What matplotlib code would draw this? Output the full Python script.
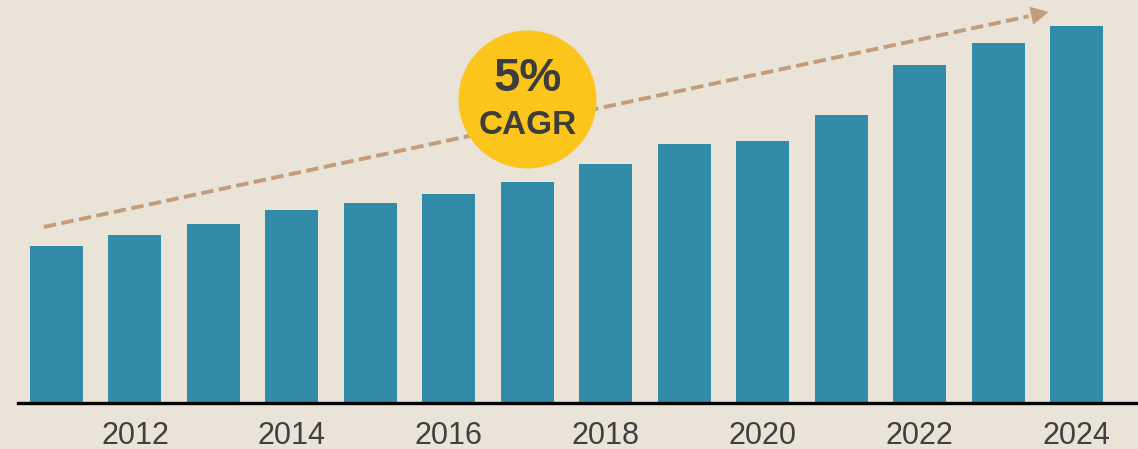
import matplotlib
matplotlib.use("Agg")
import matplotlib.pyplot as plt

years = [2011, 2012, 2013, 2014, 2015, 2016, 2017, 2018, 2019, 2020, 2021, 2022, 2023, 2024]
values = [157, 168, 179, 193, 200, 209, 221, 239, 259, 262, 288, 338, 360, 377]
tick_years = [2012, 2014, 2016, 2018, 2020, 2022, 2024]
cagr_label = "5%"
cagr_sub = "CAGR"

BG = "#E9E3D8"
BAR = "#338BAA"
ARROW = "#C49C7A"
YELLOW = "#FBC51B"
TXT = "#3D3D3D"

fig = plt.figure(figsize=(11.38, 4.49), dpi=100, facecolor=BG)
ax = fig.add_axes([18 / 1138, 46 / 449, 1 - 18 / 1138, 1 - 46 / 449])
ax.set_facecolor(BG)

x = list(range(len(years)))
ax.bar(x, values, width=0.675, color=BAR, zorder=2)

ax.set_xlim(-0.49, 13.78)
ax.set_ylim(0, 403)

tick_pos = [years.index(y) for y in tick_years]
ax.set_xticks(tick_pos)
ax.set_xticklabels([str(y) for y in tick_years], fontsize=22,
                   family="Liberation Sans", color="#404040")
ax.tick_params(axis="x", length=0, pad=13)
ax.set_yticks([])
for s in ["left", "right", "top"]:
    ax.spines[s].set_visible(False)
ax.spines["bottom"].set_linewidth(2.4)
ax.spines["bottom"].set_color("black")
ax.spines["bottom"].set_zorder(3)

# trend arrow
x0, y0 = -0.16, 176
x1, y1 = 12.64, 391
xe = x1 - (x1 - x0) * 0.02
ye = y1 - (y1 - y0) * 0.02
ax.plot([x0, xe], [y0, ye], color=ARROW, lw=2.8, dashes=(3.2, 1.4),
        solid_capstyle="butt", dash_capstyle="butt", zorder=3)
ax.annotate("", xy=(x1, y1), xytext=(xe - 0.05, ye - 0.05 * (y1 - y0) / (x1 - x0)),
            arrowprops=dict(arrowstyle="-|>,head_length=1.25,head_width=0.65",
                            color=ARROW, lw=0.1, shrinkA=0, shrinkB=0), zorder=3)

# CAGR badge
ax.scatter([6.0], [304], s=(138 * 0.72) ** 2, color=YELLOW, zorder=4, linewidths=0)
ax.text(6.0, 324, cagr_label, ha="center", va="center", fontsize=34,
        fontweight="bold", family="Liberation Sans", color=TXT, zorder=5)
ax.text(6.0, 277, cagr_sub, ha="center", va="center", fontsize=24,
        fontweight="bold", family="Liberation Sans", color=TXT, zorder=5)

fig.savefig("out.png", dpi=100, facecolor=BG)
